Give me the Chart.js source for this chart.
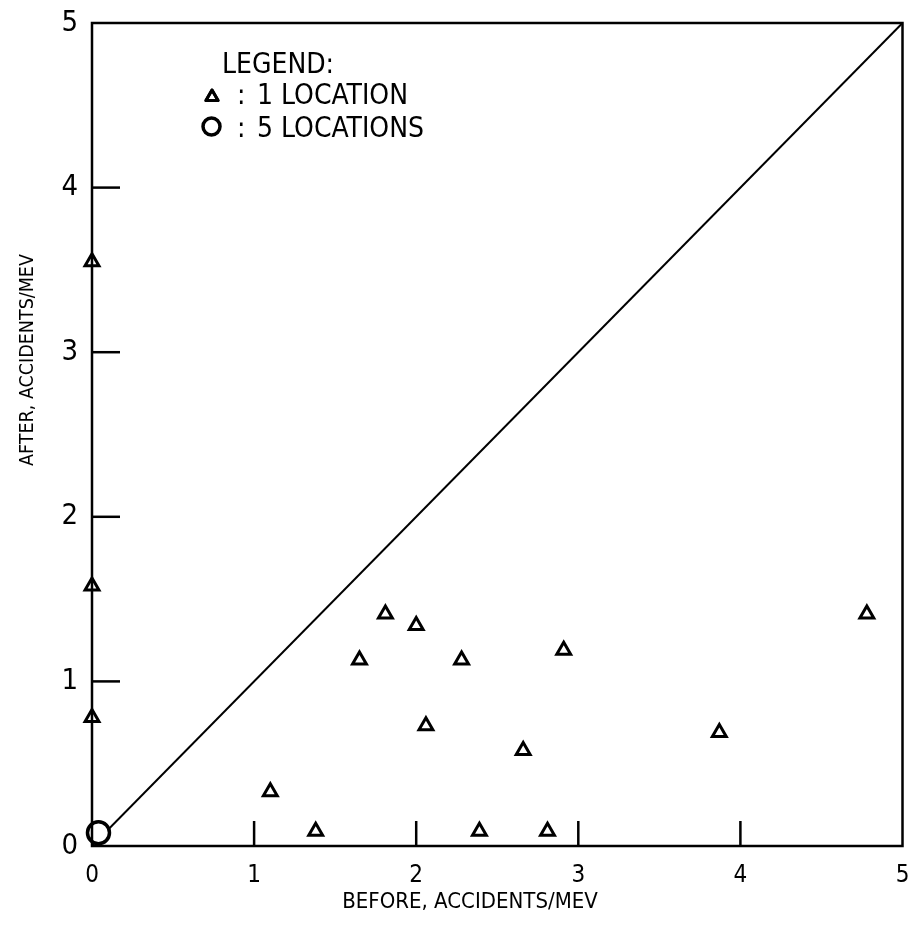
<!DOCTYPE html>
<html lang="en">
<head>
<meta charset="UTF-8">
<title>Before / After accidents per MEV</title>
<script src="https://cdn.jsdelivr.net/npm/chart.js"></script>
<style>
  html, body { margin: 0; padding: 0; background: #fff; }
  #wrap { width: 917px; height: 932px; }
</style>
</head>
<body>
<div id="wrap"><canvas id="grafico"></canvas></div>
<script>
// one triangle per location
var before = [0, 0, 0, 1.10, 1.38, 1.65, 1.81, 2.00, 2.06, 2.28, 2.39, 2.66, 2.81, 2.91, 3.87, 4.78];
var after  = [3.55, 1.58, 0.78, 0.33, 0.09, 1.13, 1.41, 1.34, 0.73, 1.13, 0.09, 0.58, 0.09, 1.19, 0.69, 1.41];

// the 5 locations sitting at the origin
var beforeOrigin = [0.04];
var afterOrigin = [0.08];

// before = after line
var lineX = [0, 5];
var lineY = [0, 5];

var tickValues = [0, 1, 2, 3, 4, 5];
var xTitle = "BEFORE, ACCIDENTS/MEV";
var yTitle = "AFTER, ACCIDENTS/MEV";
var legendTitle = "LEGEND:";
var legendItems = ["1 LOCATION", "5 LOCATIONS"];

var fonte = '"Liberation Sans Narrow", "DejaVu Sans Condensed", sans-serif';

function pares(xs, ys) {
    return xs.map(function (v, i) { return { x: v, y: ys[i] }; });
}

// frame, inner ticks, axis titles and legend
var moldura = {
    id: "moldura",
    afterDatasetsDraw: function (chart) {
        var ctx = chart.ctx;
        var a = chart.chartArea;
        var sx = chart.scales.x;
        var sy = chart.scales.y;
        ctx.save();
        ctx.strokeStyle = "#000";
        ctx.lineWidth = 2.5;
        ctx.strokeRect(a.left, a.top, a.right - a.left, a.bottom - a.top);

        // tick marks pointing inward
        tickValues.forEach(function (v) {
            if (v == 0 || v == 5) return;
            var px = sx.getPixelForValue(v);
            ctx.beginPath();
            ctx.moveTo(px, a.bottom);
            ctx.lineTo(px, a.bottom - 25);
            ctx.stroke();
            var py = sy.getPixelForValue(v);
            ctx.beginPath();
            ctx.moveTo(a.left, py);
            ctx.lineTo(a.left + 28, py);
            ctx.stroke();
        });

        ctx.fillStyle = "#000";
        ctx.textAlign = "center";
        ctx.textBaseline = "alphabetic";
        ctx.font = "22px " + fonte;
        ctx.fillText(xTitle, 470, 908);

        ctx.save();
        ctx.translate(33, 360);
        ctx.rotate(-Math.PI / 2);
        ctx.font = "19.5px " + fonte;
        ctx.fillText(yTitle, 0, 0);
        ctx.restore();

        // legend
        ctx.textAlign = "left";
        ctx.font = "28px " + fonte;
        ctx.fillText(legendTitle, 222, 73);
        ctx.fillText(":", 237, 104);
        ctx.fillText(legendItems[0], 257, 104);
        ctx.fillText(":", 237, 137);
        ctx.fillText(legendItems[1], 257, 137);

        ctx.lineWidth = 3;
        ctx.lineJoin = "round";
        ctx.fillStyle = "#fff";
        Chart.helpers.drawPoint(ctx, { pointStyle: "triangle", radius: 7, borderWidth: 3 }, 212, 97);
        ctx.stroke();
        ctx.lineWidth = 3.5;
        ctx.beginPath();
        ctx.arc(211.5, 126.5, 8.5, 0, Math.PI * 2);
        ctx.stroke();
        ctx.restore();
    }
};

new Chart(document.getElementById("grafico"), {
    type: "scatter",
    data: {
        datasets: [
            {
                label: "1 LOCATION",
                data: pares(before, after),
                pointStyle: "triangle",
                pointRadius: 8,
                pointBorderWidth: 3,
                borderColor: "#000",
                backgroundColor: "#fff",
                clip: false,
                order: 1
            },
            {
                label: "5 LOCATIONS",
                data: pares(beforeOrigin, afterOrigin),
                pointStyle: "circle",
                pointRadius: 11,
                pointBorderWidth: 3.5,
                borderColor: "#000",
                backgroundColor: "#fff",
                clip: false,
                order: 0
            },
            {
                type: "line",
                label: "before = after",
                data: pares(lineX, lineY),
                borderColor: "#000",
                borderWidth: 2,
                pointRadius: 0,
                fill: false,
                order: 2
            }
        ]
    },
    options: {
        responsive: true,
        maintainAspectRatio: false,
        animation: false,
        layout: { padding: { top: 23, right: 7, left: 0, bottom: 0 } },
        plugins: {
            legend: { display: false },
            tooltip: { enabled: false }
        },
        scales: {
            x: {
                type: "linear",
                min: 0,
                max: 5,
                afterBuildTicks: function (s) { s.ticks = tickValues.map(function (v) { return { value: v }; }); },
                afterFit: function (s) { s.height = 86; s.paddingLeft = 0; s.paddingRight = 0; },
                grid: { display: false, drawTicks: false },
                border: { display: false },
                ticks: { color: "#000", padding: 15, font: { family: fonte, size: 24 } }
            },
            y: {
                type: "linear",
                min: 0,
                max: 5,
                afterBuildTicks: function (s) { s.ticks = tickValues.map(function (v) { return { value: v }; }); },
                afterFit: function (s) { s.width = 92; s.paddingTop = 0; s.paddingBottom = 0; },
                grid: { display: false, drawTicks: false },
                border: { display: false },
                ticks: { color: "#000", padding: 14, font: { family: fonte, size: 29 } }
            }
        }
    },
    plugins: [moldura]
});
</script>
</body>
</html>
